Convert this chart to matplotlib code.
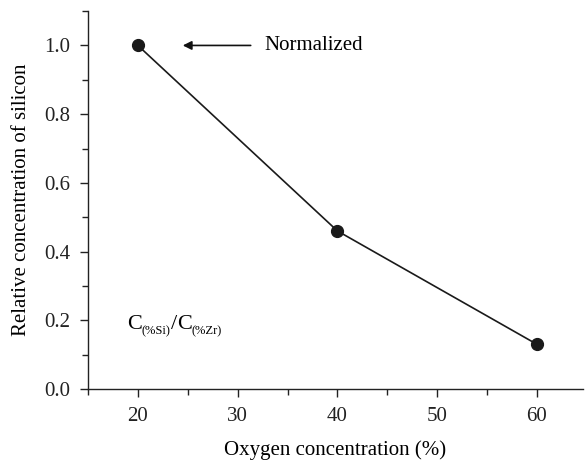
import matplotlib
matplotlib.use("Agg")
import matplotlib.pyplot as plt
from matplotlib.ticker import MultipleLocator
from matplotlib.transforms import offset_copy

# donnees
oxygene = [20, 40, 60]
silicium = [1.0, 0.46, 0.13]

plt.rcParams["font.family"] = "Liberation Serif"

fig = plt.figure(figsize=(5.85, 4.62), dpi=100)
ax = fig.add_axes([0.1504, 0.158, 0.846, 0.818])

ax.plot(oxygene, silicium, color="#1a1a1a", lw=1.2, marker="o", ms=8.5)

ax.set_xlim(15, 64.6)
ax.set_ylim(0, 1.1)
ax.xaxis.set_major_locator(MultipleLocator(10))
ax.xaxis.set_minor_locator(MultipleLocator(5))
ax.yaxis.set_major_locator(MultipleLocator(0.2))
ax.yaxis.set_minor_locator(MultipleLocator(0.1))
ax.yaxis.set_major_formatter(matplotlib.ticker.FormatStrFormatter("%.1f"))

for cote in ("top", "right"):
    ax.spines[cote].set_visible(False)
for cote in ("left", "bottom"):
    ax.spines[cote].set_linewidth(1.0)
    ax.spines[cote].set_color("#222222")

ax.tick_params(which="major", direction="out", length=6, width=1.0,
               labelsize=15, colors="#222222", pad=7)
ax.tick_params(which="minor", direction="out", length=4, width=1.0,
               colors="#222222")

ax.set_xlabel("Oxygen concentration (%)", fontsize=15, labelpad=10)
ax.set_ylabel("Relative concentration of silicon", fontsize=15, labelpad=9)

ax.annotate("Normalized", xy=(24.5, 1.0), xytext=(32.7, 1.0),
            fontsize=15, va="center", ha="left",
            arrowprops=dict(arrowstyle="-|>", color="#111111", lw=1.2,
                            mutation_scale=13, shrinkA=8, shrinkB=0))

# C(%Si)/C(%Zr) : on pose les morceaux l'un apres l'autre
morceaux = [("C", 16, 0), ("(%Si)", 9, -4), ("/", 16, 0),
            ("C", 16, 0), ("(%Zr)", 9, -4)]
renderer = fig.canvas.get_renderer()
decalage = 0.0
for texte, taille, dy in morceaux:
    tr = offset_copy(ax.transData, fig=fig, x=decalage, y=dy, units="points")
    t = ax.text(18.9, 0.175, texte, fontsize=taille, transform=tr,
                va="baseline", ha="left")
    largeur = t.get_window_extent(renderer).width * 72 / fig.dpi
    decalage += largeur

fig.savefig("out.png", dpi=100)
